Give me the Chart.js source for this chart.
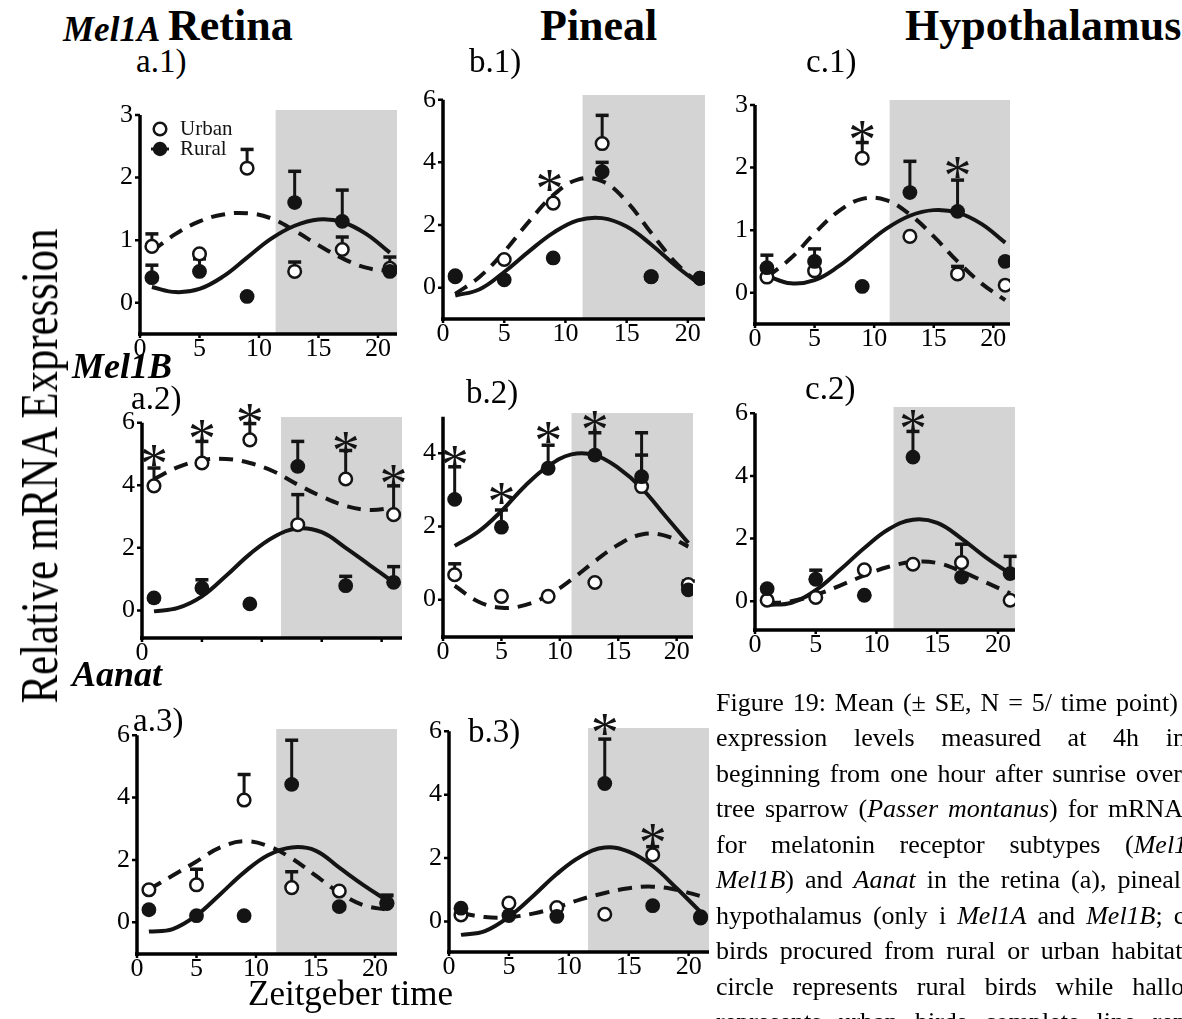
<!DOCTYPE html>
<html lang="en">
<head>
<meta charset="UTF-8">
<title>Figure 19 - Mel1A, Mel1B and Aanat expression</title>
<script src="https://cdn.jsdelivr.net/npm/chart.js"></script>
<style>
    body { margin: 0; width: 1182px; height: 1019px; overflow: hidden; background: #fff; position: relative;
           font-family: "Liberation Serif", "Times New Roman", serif; color: #000; }
    .panel { position: absolute; }
    .txt { position: absolute; white-space: nowrap; line-height: 1; }
    .just { white-space: normal; text-align: justify; text-align-last: justify; }
    .b { font-weight: bold; }
    .bi { font-weight: bold; font-style: italic; }
</style>
</head>
<body>
<script>
// sampling times (ZT) and the times used to trace the fitted cosinor curves
const hours = [1, 5, 9, 13, 17, 21];
const fitHours = [1, 3, 5, 7, 9, 11, 13, 15, 17, 19, 21];
const xTicks = [0, 5, 10, 15, 20];

// a.1 Mel1A retina
const a1Urban = [0.9, 0.78, 2.15, 0.5, 0.85, 0.55];
const a1UrbanSE = [0.2, 0, 0.3, 0.15, 0.2, 0.18];
const a1Rural = [0.4, 0.5, 0.1, 1.6, 1.3, 0.5];
const a1RuralSE = [0.2, 0.2, 0, 0.5, 0.5, 0];
const a1UrbanFit = [0.82, 1.1, 1.3, 1.41, 1.43, 1.35, 1.15, 0.92, 0.71, 0.56, 0.5];
const a1RuralFit = [0.25, 0.17, 0.22, 0.42, 0.72, 1.02, 1.23, 1.33, 1.29, 1.1, 0.8];
const a1Stars = [];

// b.1 Mel1A pineal
const b1Urban = [0.35, 0.9, 2.7, 4.6, 0.35, 0.3];
const b1UrbanSE = [0, 0, 0, 0.9, 0, 0];
const b1Rural = [0.38, 0.25, 0.95, 3.7, 0.35, 0.3];
const b1RuralSE = [0, 0, 0, 0.3, 0, 0];
const b1UrbanFit = [-0.2, 0.35, 1.15, 2.1, 2.95, 3.45, 3.4, 2.75, 1.75, 0.8, 0.1];
const b1RuralFit = [-0.25, -0.05, 0.5, 1.15, 1.75, 2.15, 2.22, 1.95, 1.38, 0.7, 0.1];
const b1Stars = [[8.7, 3.4]];

// c.1 Mel1A hypothalamus
const c1Urban = [0.25, 0.35, 2.15, 0.9, 0.3, 0.12];
const c1UrbanSE = [0, 0, 0.25, 0, 0.12, 0];
const c1Rural = [0.4, 0.5, 0.1, 1.6, 1.3, 0.5];
const c1RuralSE = [0.2, 0.2, 0, 0.5, 0.5, 0];
const c1UrbanFit = [0.25, 0.55, 0.95, 1.3, 1.5, 1.48, 1.25, 0.9, 0.5, 0.15, -0.12];
const c1RuralFit = [0.27, 0.15, 0.2, 0.42, 0.72, 1.02, 1.23, 1.32, 1.28, 1.1, 0.8];
const c1Stars = [[9, 2.57], [17, 2.0]];

// a.2 Mel1B retina
const a2Urban = [3.98, 4.71, 5.45, 2.74, 4.2, 3.06];
const a2UrbanSE = [0.57, 0.69, 0.52, 0.96, 0.91, 0.92];
const a2Rural = [0.4, 0.72, 0.21, 4.6, 0.79, 0.9];
const a2RuralSE = [0, 0.26, 0, 0.8, 0.3, 0.5];
const a2UrbanFit = [4.2, 4.58, 4.8, 4.84, 4.71, 4.44, 4.02, 3.64, 3.34, 3.21, 3.28];
const a2RuralFit = [-0.03, 0.08, 0.45, 1.1, 1.8, 2.35, 2.62, 2.5, 2.0, 1.45, 0.9];
const a2Stars = [[1, 4.92], [5, 5.72], [9, 6.25], [17, 5.35], [21, 4.28]];

// b.2 Mel1B pineal
const b2Urban = [0.68, 0.09, 0.09, 0.47, 3.09, 0.41];
const b2UrbanSE = [0.3, 0, 0, 0, 0.86, 0.1];
const b2Rural = [2.74, 1.98, 3.59, 3.95, 3.36, 0.27];
const b2RuralSE = [0.89, 0.47, 0.63, 0.61, 1.2, 0];
const b2UrbanFit = [0.38, -0.05, -0.22, -0.15, 0.12, 0.55, 1.05, 1.5, 1.78, 1.75, 1.45];
const b2RuralFit = [1.47, 1.85, 2.42, 3.1, 3.65, 3.97, 3.95, 3.6, 3.05, 2.3, 1.55];
const b2Stars = [[1, 3.9], [5, 2.9], [9, 4.54], [13, 4.86]];

// c.2 Mel1B hypothalamus
const c2Urban = [0.03, 0.12, 1.0, 1.18, 1.23, 0.03];
const c2UrbanSE = [0, 0, 0, 0, 0.59, 0];
const c2Rural = [0.4, 0.7, 0.19, 4.6, 0.77, 0.88];
const c2RuralSE = [0, 0.29, 0, 0.82, 0, 0.55];
const c2UrbanFit = [-0.07, 0.0, 0.2, 0.5, 0.82, 1.1, 1.25, 1.22, 0.95, 0.6, 0.25];
const c2RuralFit = [-0.12, -0.05, 0.35, 1.0, 1.7, 2.3, 2.6, 2.5, 2.0, 1.4, 0.88];
const c2Stars = [[13, 5.76]];

// a.3 Aanat retina
const a3Urban = [1.04, 1.2, 3.92, 1.11, 1.0, 0.6];
const a3UrbanSE = [0, 0.5, 0.82, 0.51, 0, 0.25];
const a3Rural = [0.4, 0.21, 0.21, 4.42, 0.5, 0.62];
const a3RuralSE = [0, 0, 0, 1.42, 0, 0.25];
const a3UrbanFit = [1.05, 1.5, 1.95, 2.4, 2.6, 2.45, 2.05, 1.5, 0.95, 0.55, 0.4];
const a3RuralFit = [-0.3, -0.22, 0.22, 0.9, 1.6, 2.15, 2.4, 2.3, 1.75, 1.2, 0.7];
const a3Stars = [];

// b.3 Aanat pineal
const b3Urban = [0.21, 0.58, 0.44, 0.23, 2.1, 0.15];
const b3UrbanSE = [0, 0, 0, 0, 0.26, 0];
const b3Rural = [0.42, 0.19, 0.16, 4.35, 0.5, 0.11];
const b3RuralSE = [0, 0, 0, 1.4, 0, 0];
const b3UrbanFit = [0.27, 0.14, 0.14, 0.25, 0.45, 0.7, 0.9, 1.05, 1.1, 1.0, 0.8];
const b3RuralFit = [-0.42, -0.3, 0.15, 0.8, 1.5, 2.05, 2.33, 2.2, 1.75, 1.05, 0.3];
const b3Stars = [[13, 6.2], [17, 2.73]];

const INK = '#141414';
const SHADE = '#d4d4d4';
const SERIF = '"Liberation Serif", "Times New Roman", serif';

// plot boxes in page pixels (left/right = x 0..xMax, top/bottom = yMax..yMin)
const panels = [
    { urban: a1Urban, urbanSE: a1UrbanSE, rural: a1Rural, ruralSE: a1RuralSE, urbanFit: a1UrbanFit, ruralFit: a1RuralFit, stars: a1Stars,
      box: [140, 110, 397, 334], xMax: 21.6, yMin: -0.5, yMax: 3.08, axisTop: 3, yTicks: [0, 1, 2, 3], night: 11.4, legend: true },
    { urban: b1Urban, urbanSE: b1UrbanSE, rural: b1Rural, ruralSE: b1RuralSE, urbanFit: b1UrbanFit, ruralFit: b1RuralFit, stars: b1Stars,
      box: [443, 95, 705, 319], xMax: 21.4, yMin: -1, yMax: 6.15, axisTop: 6, yTicks: [0, 2, 4, 6], night: 11.4 },
    { urban: c1Urban, urbanSE: c1UrbanSE, rural: c1Rural, ruralSE: c1RuralSE, urbanFit: c1UrbanFit, ruralFit: c1RuralFit, stars: c1Stars,
      box: [755, 100, 1010, 324], xMax: 21.4, yMin: -0.5, yMax: 3.08, axisTop: 3, yTicks: [0, 1, 2, 3], night: 11.3 },
    { urban: a2Urban, urbanSE: a2UrbanSE, rural: a2Rural, ruralSE: a2RuralSE, urbanFit: a2UrbanFit, ruralFit: a2RuralFit, stars: a2Stars,
      box: [142, 417, 402, 638], xMax: 21.7, yMin: -0.88, yMax: 6.18, axisTop: 6, yTicks: [0, 2, 4, 6], night: 11.6, zeroOnly: true },
    { urban: b2Urban, urbanSE: b2UrbanSE, rural: b2Rural, ruralSE: b2RuralSE, urbanFit: b2UrbanFit, ruralFit: b2RuralFit, stars: b2Stars,
      box: [443, 413, 693, 637], xMax: 21.4, yMin: -1.02, yMax: 5.1, axisTop: 5, yTicks: [0, 2, 4], night: 11 },
    { urban: c2Urban, urbanSE: c2UrbanSE, rural: c2Rural, ruralSE: c2RuralSE, urbanFit: c2UrbanFit, ruralFit: c2RuralFit, stars: c2Stars,
      box: [755, 407, 1015, 630], xMax: 21.4, yMin: -0.92, yMax: 6.2, axisTop: 6, yTicks: [0, 2, 4, 6], night: 11.4 },
    { urban: a3Urban, urbanSE: a3UrbanSE, rural: a3Rural, ruralSE: a3RuralSE, urbanFit: a3UrbanFit, ruralFit: a3RuralFit, stars: a3Stars,
      box: [137, 729, 397, 954], xMax: 21.85, yMin: -1.02, yMax: 6.2, axisTop: 6, yTicks: [0, 2, 4, 6], night: 11.7 },
    { urban: b3Urban, urbanSE: b3UrbanSE, rural: b3Rural, ruralSE: b3RuralSE, urbanFit: b3UrbanFit, ruralFit: b3RuralFit, stars: b3Stars,
      box: [449, 728, 709, 952], xMax: 21.7, yMin: -0.96, yMax: 6.1, axisTop: 6, yTicks: [0, 2, 4, 6], night: 11.6 }
];

const PAD_L = 70, PAD_T = 30, PAD_R = 25, PAD_B = 50;

function panelPlugin(p) {
    return {
        id: 'panelDecor',
        beforeDatasetsDraw(chart) {
            const { ctx, chartArea: a } = chart;
            const xs = chart.scales.x, ys = chart.scales.y;
            ctx.save();
            // dark phase
            const nx = xs.getPixelForValue(p.night);
            ctx.fillStyle = SHADE;
            ctx.fillRect(nx, a.top, a.right - nx, a.bottom - a.top);
            // axes
            const x0 = xs.getPixelForValue(0), yb = ys.getPixelForValue(p.yMin);
            ctx.strokeStyle = '#000';
            ctx.lineWidth = 3.5;
            ctx.beginPath();
            ctx.moveTo(x0, yb + 2);
            ctx.lineTo(x0, ys.getPixelForValue(p.axisTop));
            ctx.moveTo(x0 - 2, yb);
            ctx.lineTo(a.right, yb);
            ctx.stroke();
            ctx.lineWidth = 2.5;
            ctx.beginPath();
            p.yTicks.forEach(v => { const y = ys.getPixelForValue(v); ctx.moveTo(x0 - 5, y); ctx.lineTo(x0, y); });
            xTicks.forEach(v => { const x = xs.getPixelForValue(v); ctx.moveTo(x, yb); ctx.lineTo(x, yb + 4); });
            ctx.stroke();
            // upper error bars
            ctx.strokeStyle = INK;
            const bars = (vals, se) => vals.forEach((v, i) => {
                if (!se[i]) return;
                const x = xs.getPixelForValue(hours[i]);
                const yt = ys.getPixelForValue(v + se[i]);
                ctx.lineWidth = 3;
                ctx.beginPath();
                ctx.moveTo(x, ys.getPixelForValue(v));
                ctx.lineTo(x, yt);
                ctx.stroke();
                ctx.lineWidth = 3.5;
                ctx.beginPath();
                ctx.moveTo(x - 6.5, yt);
                ctx.lineTo(x + 6.5, yt);
                ctx.stroke();
            });
            bars(p.urban, p.urbanSE);
            bars(p.rural, p.ruralSE);
            ctx.restore();
        },
        afterDatasetsDraw(chart) {
            const { ctx, chartArea: a } = chart;
            const xs = chart.scales.x, ys = chart.scales.y;
            ctx.save();
            // significance stars
            ctx.fillStyle = INK;
            ctx.font = '56px ' + SERIF;
            ctx.textAlign = 'center';
            ctx.textBaseline = 'alphabetic';
            const m = ctx.measureText('*');
            const shift = (m.actualBoundingBoxAscent - m.actualBoundingBoxDescent) / 2;
            p.stars.forEach(([h, v]) => {
                ctx.fillText('*', xs.getPixelForValue(h), ys.getPixelForValue(v) + shift);
            });
            if (p.legend) {
                const lx = a.left + 20;
                ctx.lineWidth = 2.5;
                ctx.strokeStyle = INK;
                ctx.fillStyle = '#fff';
                ctx.beginPath();
                ctx.arc(lx, a.top + 19, 6.3, 0, Math.PI * 2);
                ctx.fill();
                ctx.stroke();
                ctx.fillStyle = INK;
                ctx.lineWidth = 3;
                ctx.beginPath();
                ctx.moveTo(lx - 9, a.top + 39);
                ctx.lineTo(lx + 9, a.top + 39);
                ctx.stroke();
                ctx.beginPath();
                ctx.arc(lx, a.top + 39, 7.2, 0, Math.PI * 2);
                ctx.fill();
                ctx.font = '21px ' + SERIF;
                ctx.textAlign = 'left';
                ctx.textBaseline = 'middle';
                ctx.fillText('Urban', lx + 20, a.top + 19);
                ctx.fillText('Rural', lx + 20, a.top + 39);
            }
            ctx.restore();
        }
    };
}

panels.forEach(p => {
    const [l, t, r, b] = p.box;
    const div = document.createElement('div');
    div.className = 'panel';
    div.style.left = (l - PAD_L) + 'px';
    div.style.top = (t - PAD_T) + 'px';
    div.style.width = (r - l + PAD_L + PAD_R) + 'px';
    div.style.height = (b - t + PAD_T + PAD_B) + 'px';
    const canvas = document.createElement('canvas');
    div.appendChild(canvas);
    document.body.appendChild(div);

    const pts = (xsArr, ysArr) => xsArr.map((x, i) => ({ x: x, y: ysArr[i] }));

    new Chart(canvas, {
        type: 'scatter',
        data: {
            datasets: [
                { label: 'Urban fit', data: pts(fitHours, p.urbanFit), showLine: true, tension: 0.4,
                  borderColor: INK, borderWidth: 4, borderDash: [14, 9], pointRadius: 0, order: 4 },
                { label: 'Rural fit', data: pts(fitHours, p.ruralFit), showLine: true, tension: 0.4,
                  borderColor: INK, borderWidth: 4, pointRadius: 0, order: 3 },
                { label: 'Urban', data: pts(hours, p.urban), pointRadius: 6.3, pointBorderWidth: 2.5,
                  pointBackgroundColor: '#fff', pointBorderColor: INK, order: 2 },
                { label: 'Rural', data: pts(hours, p.rural), pointRadius: 7.4, pointBorderWidth: 0,
                  pointBackgroundColor: INK, pointBorderColor: INK, order: 1 }
            ]
        },
        options: {
            responsive: true,
            maintainAspectRatio: false,
            animation: false,
            layout: { padding: { left: 0, top: PAD_T, right: PAD_R, bottom: 0 } },
            plugins: { legend: { display: false }, tooltip: { enabled: false } },
            scales: {
                x: {
                    type: 'linear', min: 0, max: p.xMax,
                    grid: { display: false, drawTicks: false },
                    border: { display: false },
                    afterBuildTicks: s => { s.ticks = xTicks.map(v => ({ value: v })); },
                    afterFit: s => { s.height = PAD_B; },
                    ticks: {
                        padding: 0, color: '#000', maxRotation: 0, autoSkip: false,
                        font: { family: SERIF, size: 26 },
                        callback: v => (p.zeroOnly && v !== 0) ? '' : String(v)
                    }
                },
                y: {
                    type: 'linear', min: p.yMin, max: p.yMax,
                    grid: { display: false, drawTicks: false },
                    border: { display: false },
                    afterBuildTicks: s => { s.ticks = p.yTicks.map(v => ({ value: v })); },
                    afterFit: s => { s.width = PAD_L; },
                    ticks: { padding: 7, color: '#000', font: { family: SERIF, size: 26 }, callback: v => String(v) }
                }
            }
        },
        plugins: [panelPlugin(p)]
    });
});

// page text
function put(html, x, base, size, cls, width) {
    const el = document.createElement('div');
    el.className = 'txt' + (cls ? ' ' + cls : '');
    el.innerHTML = html;
    el.style.left = x + 'px';
    el.style.top = (base - 0.8375 * size) + 'px';
    el.style.fontSize = size + 'px';
    if (width) { el.style.width = width + 'px'; el.classList.add('just'); }
    document.body.appendChild(el);
    return el;
}

put('Mel1A', 63, 41, 35, 'bi');
put('Retina', 168, 41, 44, 'b');
put('Pineal', 540, 41, 44, 'b');
put('Hypothalamus', 905, 41, 44, 'b');
put('a.1)', 136, 73, 33);
put('b.1)', 469, 73, 33);
put('c.1)', 806, 73, 33);
put('Mel1B', 72, 378, 36, 'bi');
put('a.2)', 131, 410, 33);
put('b.2)', 466, 404, 33);
put('c.2)', 805, 400, 33);
put('Aanat', 72, 686, 36, 'bi');
put('a.3)', 133, 732, 33);
put('b.3)', 468, 743, 33);
put('Zeitgeber time', 248, 1005, 35);

// rotated y title, squeezed to the length it has in the figure
const yTitle = put('Relative mRNA Expression', 0, 0, 52);
yTitle.style.left = '40px';
yTitle.style.top = '466px';
const squeeze = 475 / yTitle.offsetWidth;
yTitle.style.transform = 'translate(-50%, -50%) rotate(-90deg) scaleX(' + squeeze + ')';

// caption, justified lines cut by the right edge
const capLines = [
    ['Figure 19: Mean (\u00b1 SE, N = 5/ time point)', 462],
    ['expression levels measured at 4h in', 470],
    ['beginning from one hour after sunrise over', 466],
    ['tree sparrow (<i>Passer montanus</i>) for mRNA', 467],
    ['for melatonin receptor subtypes (<i>Mel1A</i>', 487],
    ['<i>Mel1B</i>) and <i>Aanat</i> in the retina (a), pineal', 465],
    ['hypothalamus (only i <i>Mel1A</i> and <i>Mel1B</i>; c)', 478],
    ['birds procured from rural or urban habitats.', 483],
    ['circle represents rural birds while hallow', 487],
    ['represents urban birds complete line rep', 470]
];
capLines.forEach(([html, w], i) => put(html, 716, 711.7 + i * 35.5, 26, '', w));
</script>
</body>
</html>
